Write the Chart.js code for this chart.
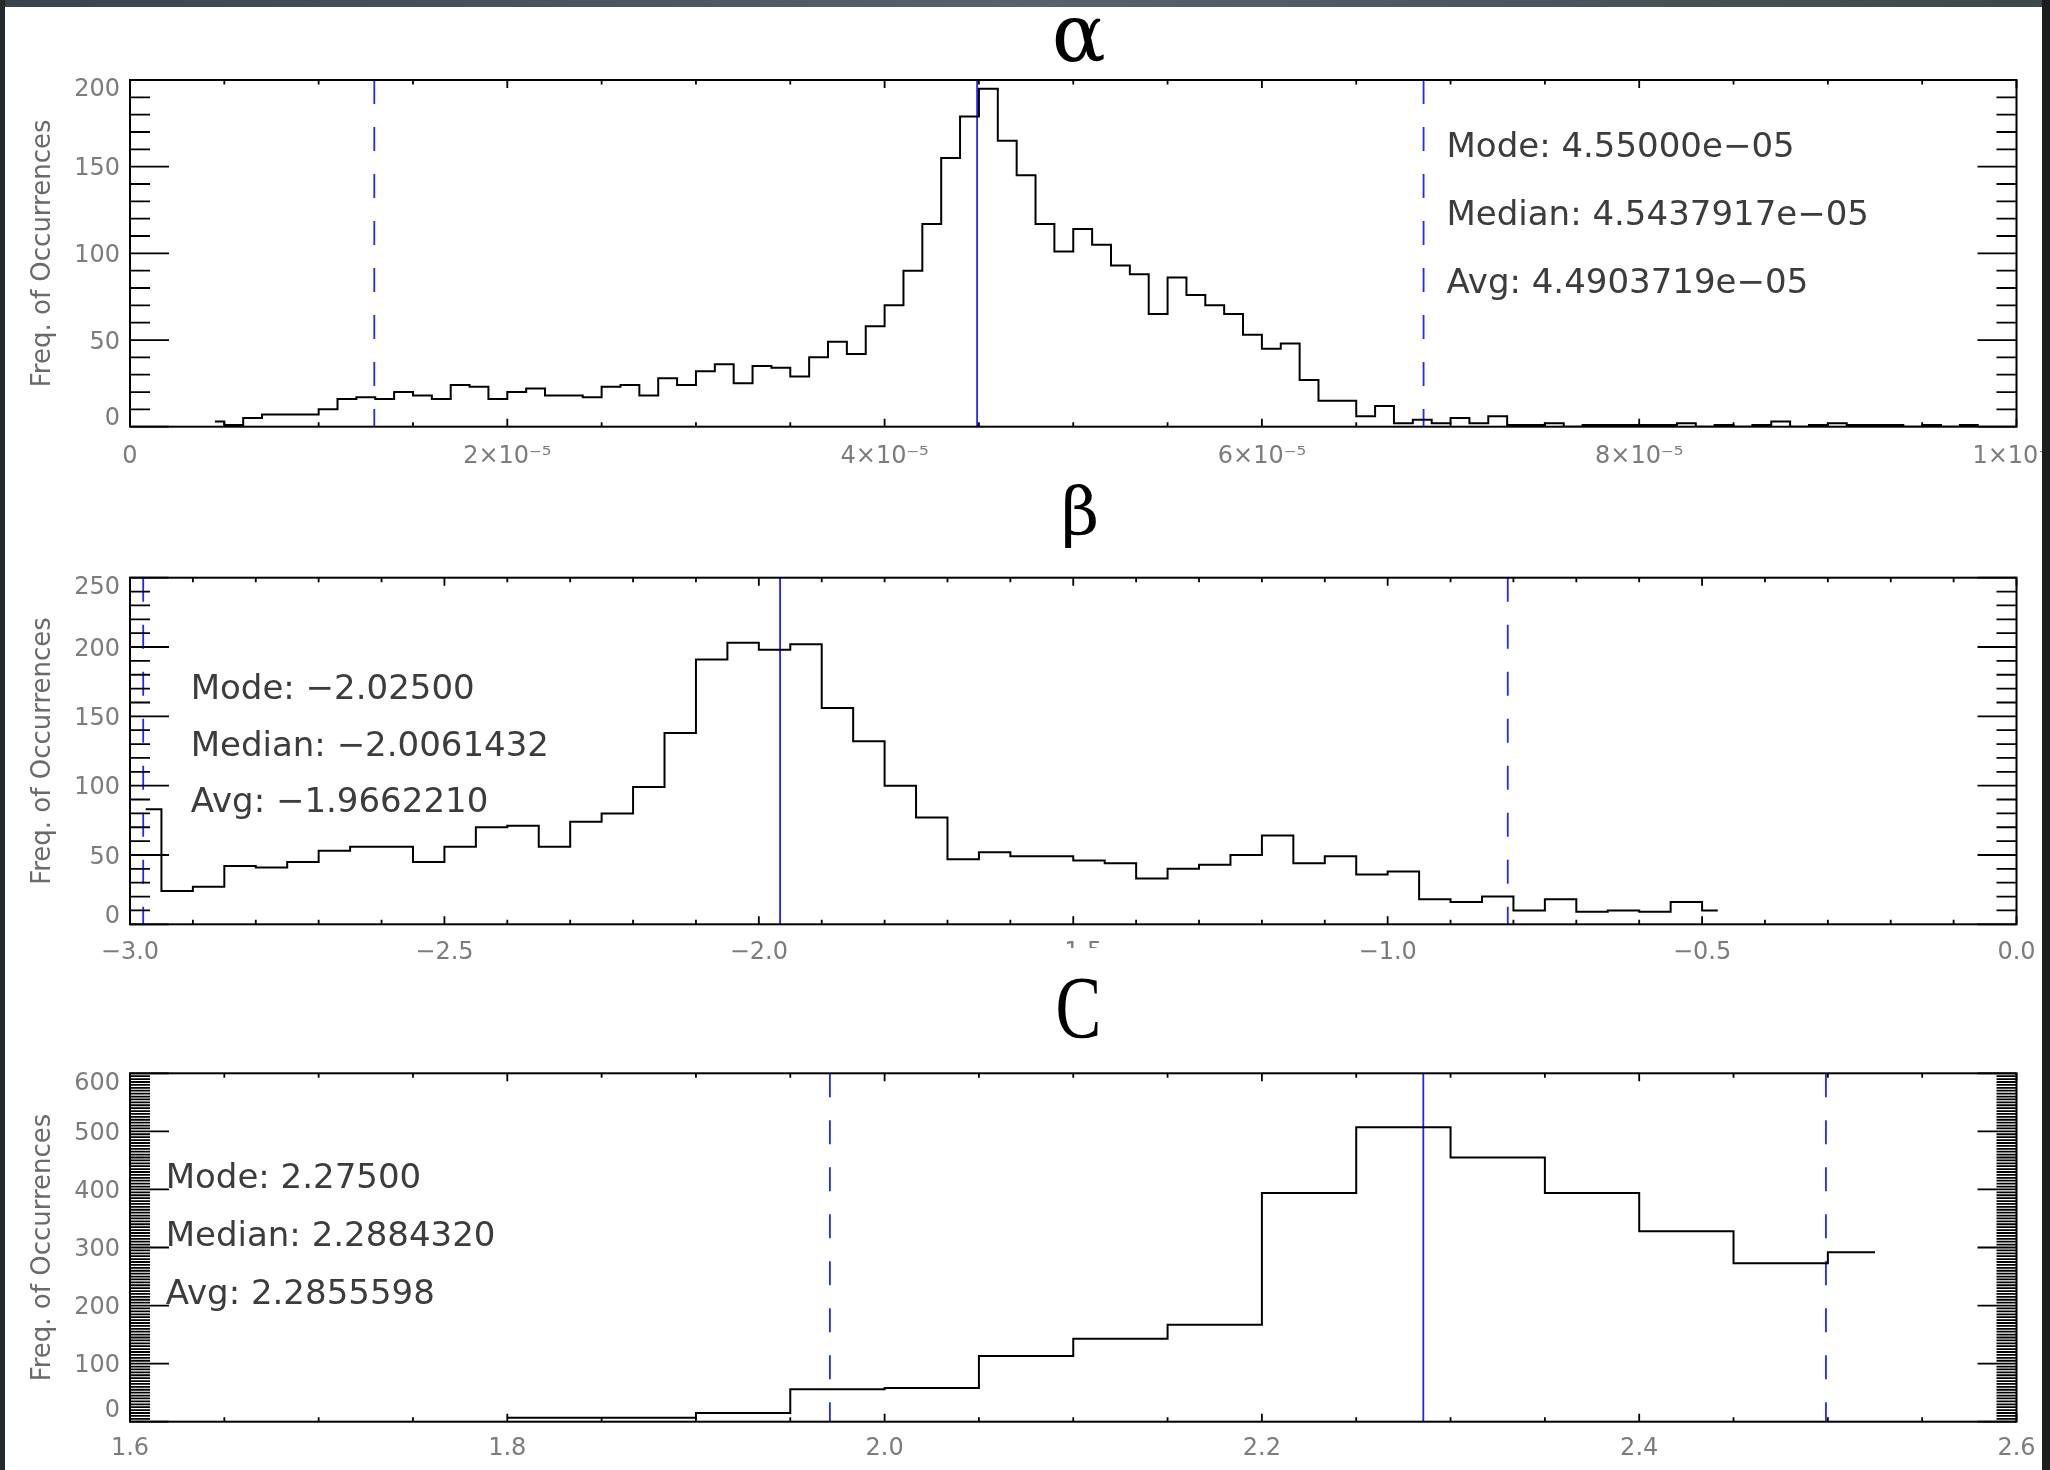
<!DOCTYPE html>
<html><head><meta charset="utf-8">
<script src="https://cdn.jsdelivr.net/npm/chart.js@4.4.1/dist/chart.umd.min.js"></script>
<style>
html,body{margin:0;padding:0;background:#fff;}
body{width:2050px;height:1470px;position:relative;overflow:hidden;}
canvas{position:absolute;left:0;}
.band{position:absolute;z-index:5;}
</style></head><body>
<canvas id="cA" width="2050" height="480" style="top:0px"></canvas>
<canvas id="cB" width="2050" height="500" style="top:470px"></canvas>
<canvas id="cC" width="2050" height="530" style="top:940px"></canvas>
<div class="band" style="left:0;top:0;width:2050px;height:7px;background:linear-gradient(90deg,#39434a,#56636a 50%,#3e484c)"></div>
<div class="band" style="left:0;top:0;width:5px;height:1470px;background:#25292c"></div>
<div class="band" style="left:2042px;top:0;width:8px;height:1470px;background:#1b1d1f"></div>
<script>
// ---------- DATA ----------
// alpha: bins of width 1e-6 starting at 4e-6
const alphaFirstBin = 4e-6;
const alphaBinWidth = 1e-6;
const alphaCounts = [3,1,5,7,7,7,10,16,17,16,20,18,16,24,23,16,20,22,18,18,17,23,24,18,28,24,32,36,25,35,34,29,40,49,42,58,70,90,117,155,179,195,165,145,117,101,114,105,93,88,65,86,76,70,65,53,45,48,27,15,15,6,12,2,4,2,5,2,6,1,1,2,0,1,1,1,1,1,2,0,1,0,1,3,0,1,2,1,1,1,0,1,0,1];
const alphaLineSpan = [4.5e-6, 9.8e-5];
const alphaAvg = 4.4903719e-5;
const alphaDashed = [1.295e-5, 6.857e-5];
const alphaNotes = ['Mode: 4.55000e\u221205', 'Median: 4.5437917e\u221205', 'Avg: 4.4903719e\u221205'];
const alphaXTicks = ['0','2\u00d710\u207b\u2075','4\u00d710\u207b\u2075','6\u00d710\u207b\u2075','8\u00d710\u207b\u2075','1\u00d710\u207b\u2074'];

// beta: bins of width 0.05 starting at -3.0
const betaFirstBin = -3.0;
const betaBinWidth = 0.05;
const betaCounts = [83,24,27,42,41,45,53,56,56,45,56,70,71,56,74,80,99,138,191,203,198,202,156,132,100,77,47,52,49,49,46,44,33,40,43,50,64,44,49,36,38,18,16,20,10,18,9,10,9,16,10];
const betaLineSpan = [-2.975, -0.475];
const betaAvg = -1.966221;
const betaDashed = [-2.979, -0.809];
const betaNotes = ['Mode: \u22122.02500', 'Median: \u22122.0061432', 'Avg: \u22121.9662210'];
const betaXTicks = ['\u22123.0','\u22122.5','\u22122.0','\u22121.5','\u22121.0','\u22120.5','0.0'];

// C: bins of width 0.05 starting at 1.80
const cFirstBin = 1.80;
const cBinWidth = 0.05;
const cCounts = [7,7,15,56,58,113,143,167,394,507,455,394,328,273,292];
const cLineSpan = [1.80, 2.525];
const cAvg = 2.2855598;
const cDashed = [1.971, 2.499];
const cNotes = ['Mode: 2.27500', 'Median: 2.2884320', 'Avg: 2.2855598'];
const cXTicks = ['1.6','1.8','2.0','2.2','2.4','2.6'];

// ---------- HELPERS ----------
function histPoints(first, width, counts, span) {
  const pts = [{x: span[0], y: counts[0]}];
  for (let i = 1; i < counts.length; i++) pts.push({x: first + i * width, y: counts[i]});
  pts.push({x: span[1], y: counts[counts.length - 1]});
  return pts;
}
const BLUE = '#2424ff';
function vline(x, ymax, dashed) {
  return {data: [{x: x, y: ymax}, {x: x, y: 0}], borderColor: BLUE, borderWidth: 1.8,
          borderDash: dashed ? [24, 23] : [], pointRadius: 0, fill: false};
}

const frameTicks = {
  id: 'frameTicks',
  afterDatasetsDraw(chart, args, o) {
    const {ctx, chartArea: a, scales: {x, y}} = chart;
    ctx.save();
    ctx.strokeStyle = '#000';
    ctx.lineWidth = 1.8;
    ctx.beginPath();
    const xn = Math.round((x.max - x.min) / o.xMinor);
    for (let i = 0; i <= xn; i++) {
      const v = x.min + i * o.xMinor;
      const r = v / o.xMajor;
      const major = Math.abs(r - Math.round(r)) < 1e-6;
      const len = major ? 8 : 4.5;
      const px = x.getPixelForValue(v);
      ctx.moveTo(px, a.bottom); ctx.lineTo(px, a.bottom - len);
      ctx.moveTo(px, a.top); ctx.lineTo(px, a.top + len);
    }
    const yn = Math.round((y.max - y.min) / o.yMinor);
    for (let i = 0; i <= yn; i++) {
      const v = y.min + i * o.yMinor;
      const r = v / o.yMajor;
      const major = Math.abs(r - Math.round(r)) < 1e-6;
      const len = major ? 39 : 20;
      const py = y.getPixelForValue(v);
      ctx.moveTo(a.left, py); ctx.lineTo(a.left + len, py);
      ctx.moveTo(a.right, py); ctx.lineTo(a.right - len, py);
    }
    ctx.stroke();
    ctx.lineWidth = 2;
    ctx.strokeRect(a.left, a.top, a.right - a.left, a.bottom - a.top);
    ctx.restore();
  }
};

const panelText = {
  id: 'panelText',
  beforeDraw(chart, args, o) {
    if (o.cover) {
      const ctx = chart.ctx;
      ctx.save(); ctx.fillStyle = '#fff'; ctx.fillRect(o.cover[0], o.cover[1], o.cover[2], o.cover[3]); ctx.restore();
    }
  },
  afterDraw(chart, args, o) {
    const ctx = chart.ctx;
    ctx.save();
    ctx.fillStyle = '#000';
    ctx.font = o.titleFont;
    ctx.textAlign = 'center';
    ctx.textBaseline = 'alphabetic';
    ctx.translate(o.titleX, o.titleY);
    ctx.scale(o.titleScaleX || 1, 1);
    ctx.fillText(o.title, 0, 0);
    ctx.restore();
    ctx.save();
    ctx.font = "34px 'DejaVu Sans', sans-serif";
    ctx.fillStyle = '#3c3c3c';
    ctx.textAlign = 'left';
    ctx.textBaseline = 'alphabetic';
    o.notes.forEach((t, i) => ctx.fillText(t, o.noteX, o.noteY + i * o.noteDy));
    ctx.restore();
  }
};

function makeChart(id, c) {
  const hist = histPoints(c.first, c.width, c.counts, c.span);
  return new Chart(document.getElementById(id), {
    type: 'line',
    data: {datasets: [
      {data: hist, borderColor: '#000', borderWidth: 2, stepped: 'before', pointRadius: 0, fill: false,
       borderJoinStyle: 'miter', borderCapStyle: 'butt'},
      vline(c.avg, c.ymax, false),
      vline(c.dashed[0], c.ymax, true),
      vline(c.dashed[1], c.ymax, true)
    ]},
    options: {
      responsive: false, animation: false, devicePixelRatio: 1,
      layout: {padding: {top: c.padTop, right: 33.5, bottom: c.padBottom, left: 0}},
      plugins: {
        legend: {display: false}, tooltip: {enabled: false},
        frameTicks: {xMinor: c.xMinor, xMajor: c.xStep, yMinor: c.yMinor, yMajor: c.yStep},
        panelText: c.text
      },
      scales: {
        x: {
          type: 'linear', min: c.xmin, max: c.xmax,
          grid: {display: false, drawTicks: false}, border: {display: false},
          ticks: {
            stepSize: c.xStep, autoSkip: false, maxRotation: 0, minRotation: 0, padding: c.xPad,
            color: '#7c7c7c', font: {family: "'DejaVu Sans', sans-serif", size: 24},
            callback: (v) => { const i = Math.round((v - c.xmin) / c.xStep); return c.xLabels[i]; }
          },
          afterFit(s) { s.height = 40; s.paddingLeft = 0; s.paddingRight = 0; }
        },
        y: {
          type: 'linear', min: 0, max: c.ymax,
          grid: {display: false, drawTicks: false}, border: {display: false},
          ticks: {
            stepSize: c.yStep, autoSkip: false, padding: 10, color: '#7c7c7c',
            font: (ctx) => {
              const v = ctx.tick ? ctx.tick.value : -1;
              let lh = '5px';
              if (v === c.ymax) lh = '20px';
              else if (v === 0) lh = c.bottomShift;
              return {family: "'DejaVu Sans', sans-serif", size: 24, lineHeight: lh};
            },
            callback: (v) => {
              const s = String(Math.round(v));
              if (v === 0) return [s, ''];
              return ['', s];
            }
          },
          title: {display: true, text: 'Freq. of Occurrences', color: '#6a6a6a',
                  font: {family: "'DejaVu Sans', sans-serif", size: 26, lineHeight: 1},
                  padding: {top: 30, bottom: 0}},
          afterFit(s) { s.width = 130; s.paddingTop = 0; s.paddingBottom = 0; }
        }
      }
    },
    plugins: [frameTicks, panelText]
  });
}

Chart.defaults.font.family = "'DejaVu Sans', sans-serif";

makeChart('cA', {
  first: alphaFirstBin, width: alphaBinWidth, counts: alphaCounts, span: alphaLineSpan,
  avg: alphaAvg, dashed: alphaDashed, ymax: 200, yStep: 50, yMinor: 10,
  xmin: 0, xmax: 1e-4, xStep: 2e-5, xMinor: 5e-6, xLabels: alphaXTicks, xPad: 16,
  padTop: 80, padBottom: 480 - 426.7 - 40, bottomShift: '16px',
  text: {title: '\u03b1', titleFont: "80px 'DejaVu Serif', serif", titleX: 1078.7, titleY: 61,
         notes: alphaNotes, noteX: 1446.5, noteY: 157.3, noteDy: 68}
});
makeChart('cB', {
  first: betaFirstBin, width: betaBinWidth, counts: betaCounts, span: betaLineSpan,
  avg: betaAvg, dashed: betaDashed, ymax: 250, yStep: 50, yMinor: 10,
  xmin: -3, xmax: 0, xStep: 0.5, xMinor: 0.1, xLabels: betaXTicks, xPad: 14,
  padTop: 107.7, padBottom: 500 - 454.3 - 40, bottomShift: '16px',
  text: {title: '\u03b2', titleFont: "66px 'DejaVu Serif', serif", titleX: 1080, titleY: 64,
         notes: betaNotes, noteX: 190.7, noteY: 229.3, noteDy: 56.2}
});
makeChart('cC', {
  first: cFirstBin, width: cBinWidth, counts: cCounts, span: cLineSpan,
  avg: cAvg, dashed: cDashed, ymax: 600, yStep: 100, yMinor: 5,
  xmin: 1.6, xmax: 2.6, xStep: 0.2, xMinor: 0.05, xLabels: cXTicks, xPad: 13,
  padTop: 133.3, padBottom: 530 - 481.7 - 40, bottomShift: '22px',
  text: {title: 'C', titleFont: "88px 'Liberation Serif', 'DejaVu Serif', serif", titleX: 1078.5, titleY: 97, titleScaleX: 0.78,
         notes: cNotes, noteX: 165.7, noteY: 248.3, noteDy: 58, cover: [1040, 8, 80, 27]}
});
</script>
</body></html>
